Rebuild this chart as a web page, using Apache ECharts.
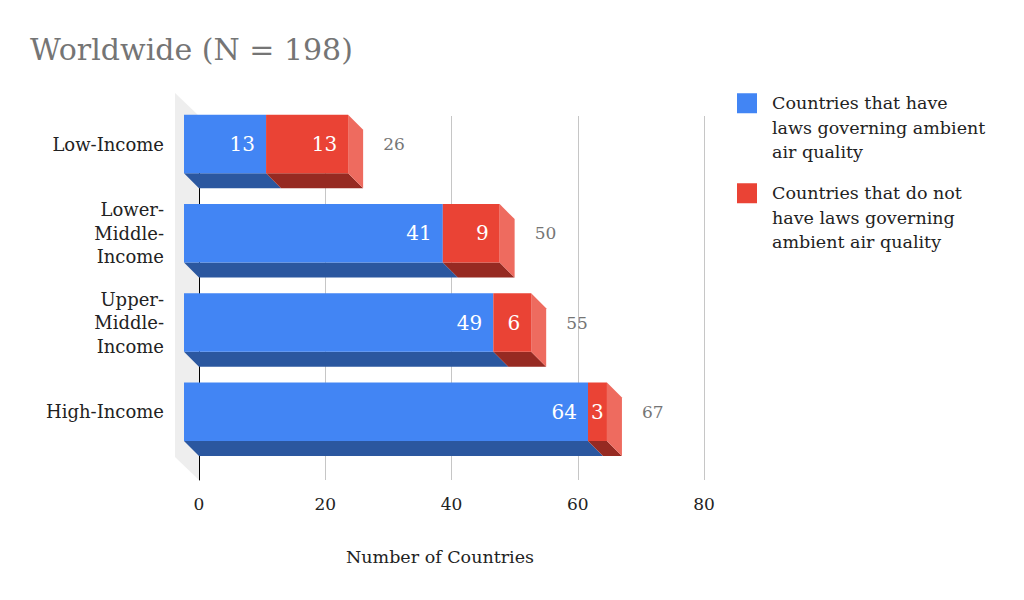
<!DOCTYPE html>
<html>
<head>
<meta charset="utf-8">
<script src="https://cdn.jsdelivr.net/npm/echarts@6/dist/echarts.min.js"></script>
<style>
  html, body { margin: 0; background: #fff; }
  #main { width: 1024px; height: 600px; }
</style>
</head>
<body>
<div id="main"></div>
<script>
// 数据
var categories = ['Low-Income', 'Lower-\nMiddle-\nIncome', 'Upper-\nMiddle-\nIncome', 'High-Income'];
var withLaws = [13, 41, 49, 64];
var withoutLaws = [13, 9, 6, 3];
var xTicks = [0, 20, 40, 60, 80];
var seriesNames = [
  'Countries that have laws governing ambient air quality',
  'Countries that do not have laws governing ambient air quality'
];
var legendLines = [
  ['Countries that have', 'laws governing ambient', 'air quality'],
  ['Countries that do not', 'have laws governing', 'ambient air quality']
];

var FONT = 'DejaVu Serif';
var DEPTH = 15;  // 柱子的3D深度

var blue = { front: '#4285f4', bottom: '#2b579f', side: '#6a9ef6' };
var red = { front: '#ea4335', bottom: '#962a22', side: '#ee6b5f' };

// 正面在 grid 0（类目标签所在），背面网格在 grid 1
function barRenderer(colors, isLast) {
  return function (params, api) {
    var idx = api.value(0);
    var start = api.coord([api.value(1), idx]);
    var end = api.coord([api.value(2), idx]);
    var h = api.size([0, 1])[1] * 0.655;
    var x0 = start[0] - DEPTH;
    var x1 = end[0] - DEPTH;
    var top = start[1] - h / 2;
    var bot = top + h;
    var children = [{
      type: 'polygon',
      shape: { points: [[x0, bot], [x1, bot], [x1 + DEPTH, bot + DEPTH], [x0 + DEPTH, bot + DEPTH]] },
      style: { fill: colors.bottom }
    }];
    if (isLast) {
      children.push({
        type: 'polygon',
        shape: { points: [[x1, top], [x1 + DEPTH, top + DEPTH], [x1 + DEPTH, bot + DEPTH], [x1, bot]] },
        style: { fill: colors.side }
      });
    }
    children.push({
      type: 'rect',
      shape: { x: x0, y: top, width: x1 - x0, height: h },
      style: { fill: colors.front }
    });
    var txt = String(api.value(2) - api.value(1));
    var fits = (x1 - x0) > txt.length * 12.5 + 22;
    children.push({
      type: 'text',
      x: fits ? x1 - 11 : (x0 + x1) / 2,
      y: start[1],
      style: {
        text: txt, fill: '#ffffff', font: '20px "' + FONT + '"',
        align: fits ? 'right' : 'center', verticalAlign: 'middle'
      }
    });
    if (isLast) {
      children.push({
        type: 'text',
        x: x1 + DEPTH + 20,
        y: start[1],
        style: {
          text: String(api.value(2)), fill: '#757575', font: '17px "' + FONT + '"',
          align: 'left', verticalAlign: 'middle'
        }
      });
    }
    return { type: 'group', children: children };
  };
}

var myChart = echarts.init(document.getElementById('main'), null, { renderer: 'svg' });

var option = {
  backgroundColor: '#ffffff',
  animation: false,
  title: {
    text: 'Worldwide (N = 198)',
    left: 30,
    top: 34,
    padding: 0,
    textStyle: { fontFamily: FONT, fontWeight: 'normal', fontSize: 30, color: '#757575' }
  },
  legend: {
    orient: 'vertical',
    left: 737,
    top: 42,
    padding: 0,
    itemWidth: 20,
    itemHeight: 20,
    itemGap: -32.5,
    icon: 'rect',
    data: seriesNames,
    formatter: function (name) {
      // 前面两个空行让第一行文字与色块对齐
      return '\n\n' + legendLines[seriesNames.indexOf(name)].join('\n');
    },
    textStyle: {
      fontFamily: FONT, fontSize: 17.5, color: '#222222',
      lineHeight: 24.5, padding: [0, 0, 0, 10]
    }
  },
  grid: [
    { left: 199, right: 320, top: 99.4, bottom: 143.6 },
    { left: 199, right: 320, top: 116, bottom: 120 }
  ],
  xAxis: [
    {
      type: 'value',
      gridIndex: 0,
      min: xTicks[0],
      max: xTicks[xTicks.length - 1],
      show: false
    },
    {
      type: 'value',
      gridIndex: 1,
      min: xTicks[0],
      max: xTicks[xTicks.length - 1],
      interval: xTicks[1] - xTicks[0],
      z: 0,
      axisLine: { show: false },
      axisTick: { show: false },
      splitLine: { lineStyle: { color: '#c6c6c6', width: 1 } },
      axisLabel: { fontFamily: FONT, fontSize: 17, color: '#222222', margin: 15 },
      name: 'Number of Countries',
      nameLocation: 'middle',
      nameGap: 68,
      nameTextStyle: { fontFamily: FONT, fontSize: 17.5, color: '#222222', padding: [0, 23, 0, 0] }
    }
  ],
  yAxis: [
    {
      type: 'category',
      gridIndex: 0,
      data: categories,
      inverse: true,
      axisLine: { show: false },
      axisTick: { show: false },
      splitLine: { show: false },
      axisLabel: {
        fontFamily: FONT, fontSize: 18, color: '#222222', lineHeight: 23.5,
        margin: 35, interval: 0
      }
    },
    {
      type: 'value',
      gridIndex: 1,
      min: 0,
      max: 1,
      z: 1,
      axisLine: { show: true, lineStyle: { color: '#000000', width: 1 } },
      axisTick: { show: false },
      axisLabel: { show: false },
      splitLine: { show: false }
    }
  ],
  series: [
    {
      // 左侧的灰色墙面
      type: 'custom',
      name: 'wall',
      silent: true,
      z: -1,
      xAxisIndex: 1,
      yAxisIndex: 1,
      data: [[0, 0]],
      renderItem: function (params, api) {
        var cs = params.coordSys;
        return {
          type: 'polygon',
          shape: { points: [[cs.x - 24, cs.y - 23], [cs.x, cs.y], [cs.x, cs.y + cs.height], [cs.x - 24, cs.y + cs.height - 23]] },
          style: { fill: '#eeeeee' }
        };
      }
    },
    {
      type: 'custom',
      name: seriesNames[0],
      xAxisIndex: 0,
      yAxisIndex: 0,
      itemStyle: { color: blue.front },
      encode: { x: [1, 2], y: 0 },
      data: withLaws.map(function (v, i) { return [i, 0, v]; }),
      renderItem: barRenderer(blue, false)
    },
    {
      type: 'custom',
      name: seriesNames[1],
      xAxisIndex: 0,
      yAxisIndex: 0,
      itemStyle: { color: red.front },
      encode: { x: [1, 2], y: 0 },
      data: withoutLaws.map(function (v, i) { return [i, withLaws[i], withLaws[i] + v]; }),
      renderItem: barRenderer(red, true)
    }
  ]
};

myChart.setOption(option);
</script>
</body>
</html>
